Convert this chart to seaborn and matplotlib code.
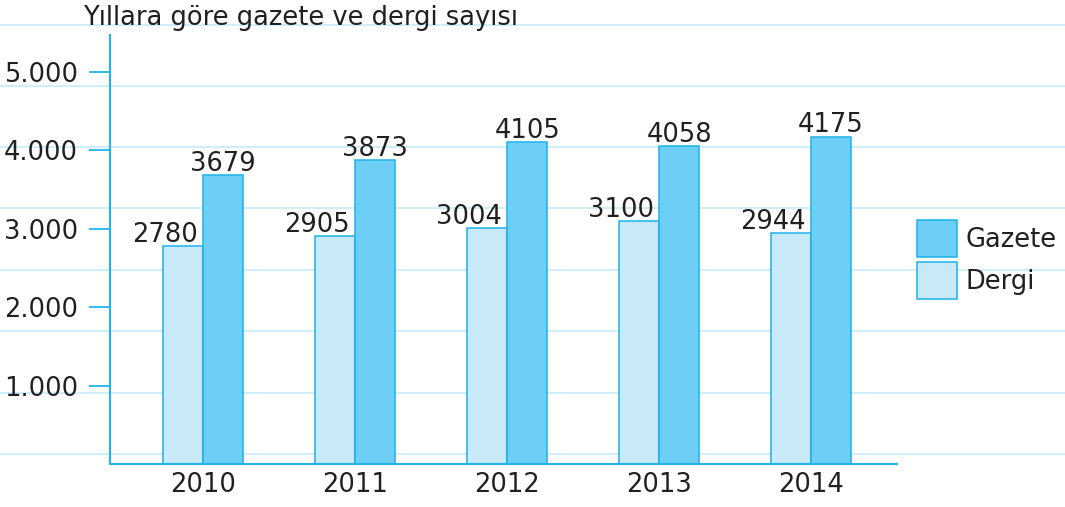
import matplotlib
matplotlib.use("Agg")
import matplotlib.pyplot as plt
import matplotlib.patches as mpatches
from matplotlib.lines import Line2D
import numpy as np
import pandas as pd
import seaborn as sns

# Data
years = ["2010", "2011", "2012", "2013", "2014"]
dergi = [2780, 2905, 3004, 3100, 2944]
gazete = [3679, 3873, 4105, 4058, 4175]
y_ticks = [1000, 2000, 3000, 4000, 5000]
y_tick_labels = ["1.000", "2.000", "3.000", "4.000", "5.000"]
title = "Yıllara göre gazete ve dergi sayısı"

# Styling
W, H = 1065, 507
TEXT = "#231f20"
AXIS_BLUE = "#22b4ee"
GRID_BLUE = "#c6ebf9"
COL_DERGI = "#c7e9f8"
COL_GAZETE = "#6dcff5"
EDGE = "#1cb1ea"
FS = 18.5

sns.set_theme(style="white")
plt.rcParams["font.family"] = ["DejaVu Sans"]
plt.rcParams["text.color"] = TEXT

df = pd.DataFrame({
    "Yıl": years * 2,
    "Sayı": dergi + gazete,
    "Tür": ["Dergi"] * len(years) + ["Gazete"] * len(years),
})

fig = plt.figure(figsize=(W / 100, H / 100), dpi=100)
ax = fig.add_axes([110 / W, 43 / H, (897 - 110) / W, (464 - 35) / H])
ax.set_facecolor("none")

# Ruled background lines across the whole sheet
for row in [25, 86, 147, 208, 270, 331, 393, 454]:
    fig.add_artist(Line2D([0, 1], [1 - row / H] * 2, transform=fig.transFigure,
                          color=GRID_BLUE, linewidth=1.2, zorder=-1))

sns.barplot(data=df, x="Yıl", y="Sayı", hue="Tür", hue_order=["Dergi", "Gazete"],
            palette=[COL_DERGI, COL_GAZETE], width=0.53, edgecolor=EDGE,
            linewidth=1.1, saturation=1, legend=False, ax=ax)

# Value labels above bars
for container, vals, dx in zip(ax.containers, [dergi, gazete], [-13, 0]):
    for bar, v in zip(container, vals):
        ax.annotate(str(v), xy=(bar.get_x() + bar.get_width() / 2, v),
                    xytext=(dx, 3), textcoords="offset points",
                    ha="center", va="baseline", fontsize=FS, color=TEXT)

ax.set_xlim(-0.612, 4.566)
ax.set_ylim(0, 5470)
ax.set_yticks(y_ticks)
ax.set_yticklabels(y_tick_labels)
ax.set_xlabel("")
ax.set_ylabel("")
ax.tick_params(axis="y", length=15, width=1.3, color=AXIS_BLUE, pad=8,
               labelsize=FS, labelcolor=TEXT, direction="out", left=True)
ax.tick_params(axis="x", length=0, pad=6, labelsize=FS, labelcolor=TEXT)
for side in ["top", "right"]:
    ax.spines[side].set_visible(False)
for side in ["left", "bottom"]:
    ax.spines[side].set_color(AXIS_BLUE)
    ax.spines[side].set_linewidth(1.5)
ax.grid(False)

fig.text(83 / W, 1 - 25 / H, title, fontsize=FS, color=TEXT,
         ha="left", va="baseline")

handles = [
    mpatches.Patch(facecolor=COL_GAZETE, edgecolor=EDGE, linewidth=1.1, label="Gazete"),
    mpatches.Patch(facecolor=COL_DERGI, edgecolor=EDGE, linewidth=1.1, label="Dergi"),
]
fig.legend(handles=handles, loc="upper left", bbox_to_anchor=(917 / W, 1 - 220 / H),
           bbox_transform=fig.transFigure, frameon=False, fontsize=FS,
           borderpad=0, borderaxespad=0, handlelength=1.56, handleheight=1.84,
           handletextpad=0.31, labelspacing=0.2)

fig.savefig("out.png", dpi=100)
